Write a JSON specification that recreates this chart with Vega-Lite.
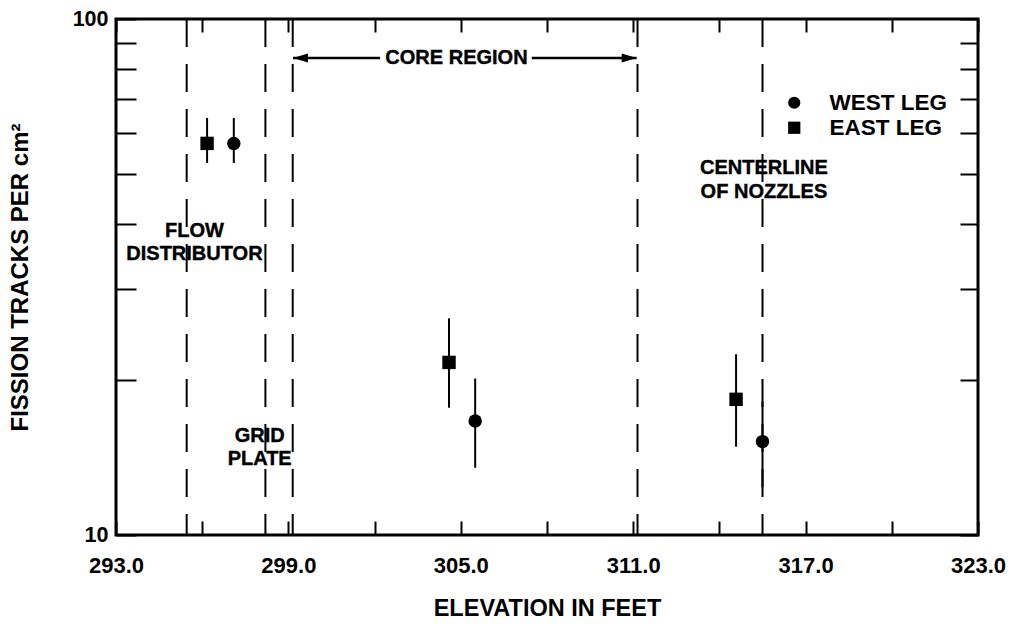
{
  "$schema": "https://vega.github.io/schema/vega-lite/v6.json",
  "autosize": "none",
  "width": 862,
  "height": 516,
  "padding": {"left": 116, "top": 19, "right": 38, "bottom": 89},
  "background": "white",
  "config": {
    "view": {"stroke": "black", "strokeWidth": 3},
    "font": "Liberation Sans",
    "axis": {"labelFont": "Liberation Sans", "titleFont": "Liberation Sans", "labelColor": "black", "titleColor": "black", "labelFontWeight": "bold", "titleFontWeight": "bold", "tickColor": "black", "grid": false, "domain": false, "labelFlush": false}
  },
  "datasets": {
    "pts": [
      {"leg": "EAST LEG", "elev": 296.17, "val": 57.4, "lo": 52.6, "hi": 64.3},
      {"leg": "WEST LEG", "elev": 297.1, "val": 57.4, "lo": 52.6, "hi": 64.3},
      {"leg": "EAST LEG", "elev": 304.59, "val": 21.6, "lo": 17.65, "hi": 26.3},
      {"leg": "WEST LEG", "elev": 305.5, "val": 16.64, "lo": 13.5, "hi": 20.1},
      {"leg": "EAST LEG", "elev": 314.58, "val": 18.32, "lo": 14.83, "hi": 22.4},
      {"leg": "WEST LEG", "elev": 315.5, "val": 15.17, "lo": 12.37, "hi": 18.13}
    ],
    "dashes": [{"elev": 295.46}, {"elev": 298.2}, {"elev": 299.15}, {"elev": 311.15}, {"elev": 315.5}],
    "notes": [
      {"label": "FLOW\nDISTRIBUTOR", "elev": 295.73, "val": 38.9},
      {"label": "GRID\nPLATE", "elev": 298.0, "val": 15.57},
      {"label": "CORE REGION", "elev": 304.85, "val": 84.0},
      {"label": "CENTERLINE\nOF NOZZLES", "elev": 315.55, "val": 51.37}
    ],
    "arrowlines": [
      {"a": 299.16, "b": 302.19, "val": 84.0},
      {"a": 307.47, "b": 311.12, "val": 84.0}
    ],
    "headL": [{"elev": 299.42, "val": 84.0}],
    "headR": [{"elev": 310.86, "val": 84.0}]
  },
  "layer": [
    {
      "data": {"name": "dashes"},
      "mark": {"type": "rule", "color": "black", "strokeWidth": 2, "strokeDash": [28, 17]},
      "encoding": {
        "x": {"field": "elev", "type": "quantitative", "scale": {"domain": [293, 323], "nice": false, "zero": false},
          "axis": {"orient": "bottom", "values": [293, 296, 299, 302, 305, 308, 311, 314, 317, 320, 323], "tickSize": -14, "tickWidth": 2, "labelPadding": 34, "labelFontSize": 22, "labelExpr": "(datum.value - 293) % 6 == 0 ? format(datum.value, '.1f') : ''", "title": "ELEVATION IN FEET", "titleFontSize": 23.5, "titlePadding": 20}}
      }
    },
    {
      "data": {"name": "pts"},
      "mark": {"type": "rule", "color": "black", "strokeWidth": 2},
      "encoding": {
        "x": {"field": "elev", "type": "quantitative",
          "axis": {"orient": "top", "values": [293, 296, 299, 302, 305, 308, 311, 314, 317, 320, 323], "tickSize": -13, "tickWidth": 2, "labels": false, "title": null}},
        "y": {"field": "lo", "type": "quantitative", "scale": {"type": "log", "domain": [10, 100], "nice": false},
          "axis": {"orient": "left", "values": [10, 20, 30, 40, 50, 60, 70, 80, 90, 100], "tickSize": -20, "tickWidth": 2, "labelPadding": 28, "labelFontSize": 21.5, "labelExpr": "datum.value == 10 || datum.value == 100 ? format(datum.value, 'd') : ''", "title": "FISSION TRACKS PER cm²", "titleFontSize": 24, "titlePadding": 40}},
        "y2": {"field": "hi"}
      }
    },
    {
      "data": {"name": "pts"},
      "mark": {"type": "point", "filled": true, "color": "black", "opacity": 1, "size": 180},
      "encoding": {
        "x": {"field": "elev", "type": "quantitative", "axis": null},
        "y": {"field": "val", "type": "quantitative",
          "axis": {"orient": "right", "values": [10, 20, 30, 40, 50, 60, 70, 80, 90, 100], "tickSize": -18, "tickWidth": 2, "labels": false, "title": null}},
        "shape": {"field": "leg", "type": "nominal", "scale": {"domain": ["WEST LEG", "EAST LEG"], "range": ["circle", "square"]},
          "legend": {"orient": "none", "legendX": 667, "legendY": 72.5, "title": null, "padding": 0, "labelFont": "Liberation Sans", "labelFontSize": 22.5, "labelFontWeight": "bold", "labelColor": "black", "symbolSize": 150, "symbolFillColor": "black", "symbolStrokeColor": "black", "labelOffset": 24, "rowPadding": 2}}
      }
    },
    {
      "data": {"name": "notes"},
      "mark": {"type": "text", "font": "Liberation Sans", "fontWeight": "bold", "fontSize": 20, "align": "center", "baseline": "middle", "lineBreak": "\n", "lineHeight": 23.5, "color": "black", "stroke": "black", "strokeWidth": 0.4},
      "encoding": {
        "x": {"field": "elev", "type": "quantitative", "axis": null},
        "y": {"field": "val", "type": "quantitative", "axis": null},
        "text": {"field": "label"}
      }
    },
    {
      "data": {"name": "arrowlines"},
      "mark": {"type": "rule", "color": "black", "strokeWidth": 2.5},
      "encoding": {
        "x": {"field": "a", "type": "quantitative", "axis": null},
        "x2": {"field": "b"},
        "y": {"field": "val", "type": "quantitative", "axis": null}
      }
    },
    {
      "data": {"name": "headL"},
      "mark": {"type": "point", "filled": true, "color": "black", "opacity": 1, "size": 225, "shape": "M-1,0L1,-0.6L1,0.6Z"},
      "encoding": {
        "x": {"field": "elev", "type": "quantitative", "axis": null},
        "y": {"field": "val", "type": "quantitative", "axis": null}
      }
    },
    {
      "data": {"name": "headR"},
      "mark": {"type": "point", "filled": true, "color": "black", "opacity": 1, "size": 225, "shape": "M1,0L-1,-0.6L-1,0.6Z"},
      "encoding": {
        "x": {"field": "elev", "type": "quantitative", "axis": null},
        "y": {"field": "val", "type": "quantitative", "axis": null}
      }
    }
  ],
  "resolve": {"axis": {"x": "independent", "y": "independent"}}
}
